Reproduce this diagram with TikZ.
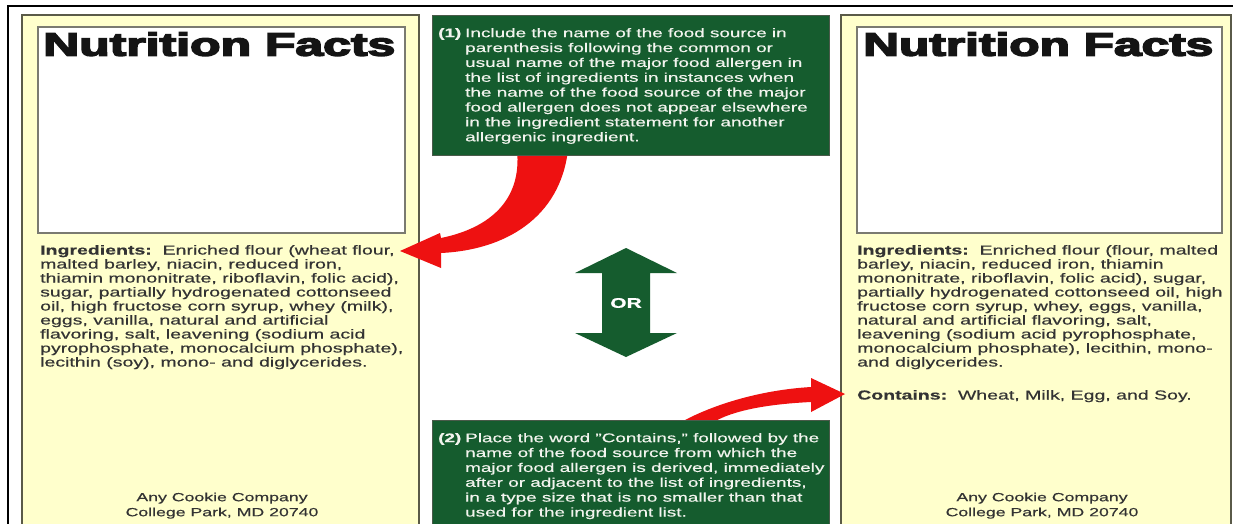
\documentclass[tikz,border=0pt]{standalone}
\usepackage{fontspec}
\usepackage{graphicx}
\setmainfont{Liberation Sans}[FakeStretch=1.5, FakeBold=0.5]
\newfontfamily\nffont{Liberation Sans}[FakeBold=4]
\definecolor{panelyellow}{HTML}{FFFFCC}
\definecolor{panelborder}{HTML}{5A5A48}
\definecolor{boxborder}{HTML}{7A7A70}
\definecolor{fdagreen}{HTML}{155C2E}
\definecolor{greenborder}{HTML}{4A5A4A}
\definecolor{arrowred}{HTML}{EE1111}
\definecolor{bodytext}{HTML}{333333}
\definecolor{greentext}{HTML}{F2F4EE}
\tikzset{
  panel/.style={fill=panelyellow, draw=panelborder, line width=2.5pt},
  factsbox/.style={fill=white, draw=boxborder, line width=1.8pt},
  greenbox/.style={fill=fdagreen, draw=greenborder, line width=1pt},
  redarrow/.style={fill=arrowred, draw=none},
  bodytxt/.style={inner sep=0pt, anchor=north west, align=left, text=bodytext, font=\fontsize{13}{14}\selectfont},
  greentxt/.style={inner sep=0pt, anchor=north west, align=left, text=greentext, font=\fontsize{12.6}{14.86}\selectfont},
  companytxt/.style={inner sep=0pt, anchor=north, align=center, text=bodytext, font=\fontsize{11.8}{15}\selectfont},
  facttitle/.style={inner sep=0pt, anchor=north west, text=black!92}
}
\newcommand{\nftitle}[1]{\resizebox{#1}{23.5pt}{\nffont\bfseries Nutrition Facts}}
\newcommand{\hang}{\hspace*{27pt}}
\begin{document}
\begin{tikzpicture}[x=1pt, y=-1pt]
\clip (0,0) rectangle (1233,523);
\fill[white] (0,0) rectangle (1233,523);
% outer frame
\draw[black, line width=1.6pt] (8,530) -- (8,6) -- (1233,6);
% panels
\draw[panel] (22,15) rectangle (419,535);
\draw[panel] (841,15) rectangle (1231,535);
\draw[factsbox] (38,27) rectangle (405,233);
\draw[factsbox] (857,27) rectangle (1222,233);
\node[facttitle] (nfl) at (43,32) {\nftitle{352pt}};
\node[facttitle] (nfr) at (863,32) {\nftitle{350pt}};
% left ingredients
\node[bodytxt] (ingl) at (40,244.5) {\strut\textbf{Ingredients:}\ \ Enriched flour (wheat flour,\\
malted barley, niacin, reduced iron,\\
thiamin mononitrate, riboflavin, folic acid),\\
sugar, partially hydrogenated cottonseed\\
oil, high fructose corn syrup, whey (milk),\\
eggs, vanilla, natural and artificial\\
flavoring, salt, leavening (sodium acid\\
pyrophosphate, monocalcium phosphate),\\
lecithin (soy), mono- and diglycerides.};
% right ingredients
\node[bodytxt] (ingr) at (857,244.5) {\strut\textbf{Ingredients:}\ \ Enriched flour (flour, malted\\
barley, niacin, reduced iron, thiamin\\
mononitrate, riboflavin, folic acid), sugar,\\
partially hydrogenated cottonseed oil, high\\
fructose corn syrup, whey, eggs, vanilla,\\
natural and artificial flavoring, salt,\\
leavening (sodium acid pyrophosphate,\\
monocalcium phosphate), lecithin, mono-\\
and diglycerides.};
\node[bodytxt] (contains) at (857,389.5) {\strut\textbf{Contains:}\ \ Wheat, Milk, Egg, and Soy.};
% company
\node[companytxt] (coml) at (222,490.5) {\strut Any Cookie Company\\College Park, MD 20740};
\node[companytxt] (comr) at (1042,490.5) {\strut Any Cookie Company\\College Park, MD 20740};
% red arrows
\fill[redarrow] (517,150) .. controls (522,200) and (490,228) .. (441,238)
  -- (440,233) -- (400,251) -- (441,268) -- (441,253)
  .. controls (505,250) and (560,218) .. (568,150) -- cycle;
\fill[redarrow] (676,425) .. controls (710,405) and (760,390) .. (811,387)
  -- (811,378) -- (845,394) -- (811,412) -- (811,402)
  .. controls (770,404) and (730,410) .. (709,425) -- cycle;
% green boxes
\draw[greenbox] (432,15) rectangle (829,155);
\draw[greenbox] (432,420) rectangle (829,535);
\node[greentxt] (g1txt) at (438,26.6) {\strut\makebox[27pt][l]{\textbf{(1)}}Include the name of the food source in\\
\hang parenthesis following the common or\\
\hang usual name of the major food allergen in\\
\hang the list of ingredients in instances when\\
\hang the name of the food source of the major\\
\hang food allergen does not appear elsewhere\\
\hang in the ingredient statement for another\\
\hang allergenic ingredient.};
\node[greentxt] (g2txt) at (438,431.6) {\strut\makebox[27pt][l]{\textbf{(2)}}Place the word "Contains," followed by the\\
\hang name of the food source from which the\\
\hang major food allergen is derived, immediately\\
\hang after or adjacent to the list of ingredients,\\
\hang in a type size that is no smaller than that\\
\hang used for the ingredient list.};
% OR double arrow
\fill[fdagreen] (626,248) -- (677,273) -- (650,273) -- (650,333) -- (677,333)
  -- (626,357) -- (575,333) -- (602,333) -- (602,273) -- (575,273) -- cycle;
\node[inner sep=0pt, text=white, font=\fontsize{14}{14}\selectfont\bfseries] (or) at (626,303) {OR};
\end{tikzpicture}
\end{document}
